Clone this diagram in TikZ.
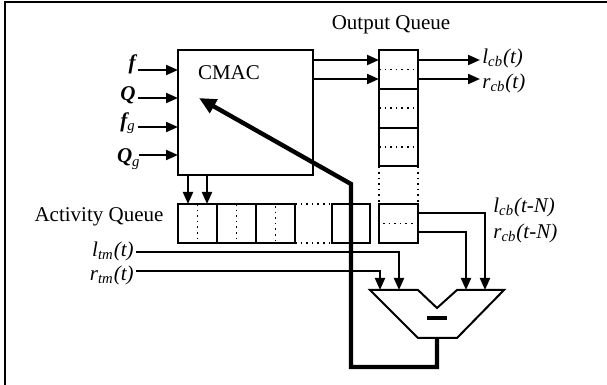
\documentclass[tikz,border=0pt]{standalone}
\usepackage{fontspec}
\setmainfont{Liberation Serif}
\usetikzlibrary{positioning,arrows.meta}

\begin{document}
\begin{tikzpicture}[x=0.5pt,y=-0.5pt,
  font=\fontsize{10.5}{12}\selectfont,
  cell/.style={draw,line width=1pt,minimum width=19.5pt,minimum height=19.4pt,
    inner sep=0pt,outer sep=0pt},
  lbl/.style={inner sep=1pt,font=\fontsize{10.5}{12}\selectfont\itshape},
  dots/.style={dotted,line width=0.8pt},
  flow/.style={-{Triangle[length=6pt,width=5pt]},line width=1pt},
  wire/.style={line width=1pt},
  back/.style={-{Triangle[length=8.5pt,width=7.5pt]},line width=2.2pt},
  node distance=0pt]
\useasboundingbox (0,0) rectangle (607,385);
\draw[line width=1pt] (5,385) -- (5,2) -- (607,2);
% CMAC block
\node[cell,minimum width=67.5pt,minimum height=62.5pt,anchor=north west] (cmac) at (178,50) {};
\node (cmaclbl) at (229,73) {CMAC};
% output queue
\node[cell,anchor=north west] (oq1) at (379,50) {};
\node[cell,below=of oq1] (oq2) {};
\node[cell,below=of oq2] (oq3) {};
\node[cell,anchor=north west,minimum height=19.5pt] (oqN) at (379,204) {};
\draw[dots,shorten <=2pt,shorten >=2pt] (oq1.west) -- (oq1.east) (oq2.west) -- (oq2.east)
  (oq3.west) -- (oq3.east) (oqN.west) -- (oqN.east);
\draw[dots] (oq3.south west) -- (oqN.north west) (oq3.south east) -- (oqN.north east);
\node (oqlbl) at (391,25) {Output Queue};
% activity queue
\node[cell,anchor=north west,minimum height=19.5pt] (aq1) at (178,204) {};
\node[cell,right=of aq1,minimum height=19.5pt] (aq2) {};
\node[cell,right=of aq2,minimum height=19.5pt] (aq3) {};
\node[cell,anchor=north west,minimum width=19pt,minimum height=19.5pt] (aq4) at (332,204) {};
\draw[dots,shorten <=1pt,shorten >=1pt] (aq1.north) -- (aq1.south) (aq2.north) -- (aq2.south)
  (aq3.north) -- (aq3.south);
\draw[dots] (aq3.north east) -- (aq4.north west) (aq3.south east) -- (aq4.south west);
\node (aqlbl) at (99,217) {Activity Queue};
% inputs
\node[lbl,anchor=east] (fin) at (138,64) {\bfseries f};
\node[lbl,anchor=east] (qin) at (138,95) {\bfseries Q};
\node[lbl,anchor=east] (fgin) at (138,123) {\textbf{f}\textsubscript{g}};
\node[lbl,anchor=east] (qgin) at (143,159) {\textbf{Q}\textsubscript{g}};
\coordinate (fin-in) at ([yshift=-10pt]cmac.north west);
\coordinate (qin-in) at ([yshift=-24pt]cmac.north west);
\coordinate (fgin-in) at ([yshift=-38.5pt]cmac.north west);
\coordinate (qgin-in) at ([yshift=-52.5pt]cmac.north west);
\draw[flow] (fin.east |- fin-in) -- (fin-in);
\draw[flow] (qin.east |- qin-in) -- (qin-in);
\draw[flow] (fgin.east |- fgin-in) -- (fgin-in);
\draw[flow] ([xshift=-2pt]qgin.east |- qgin-in) -- (qgin-in);
% CMAC to queues
\draw[flow] ([yshift=-5pt]cmac.north east) -- ([yshift=-5pt]oq1.north west);
\draw[flow] ([yshift=-14.5pt]cmac.north east) -- ([yshift=-14.5pt]oq1.north west);
\draw[flow] ([xshift=5pt]cmac.south west) -- ([xshift=5pt]aq1.north west);
\draw[flow] ([xshift=14.5pt]cmac.south west) -- ([xshift=14.5pt]aq1.north west);
% outputs
\node[lbl,anchor=west] (lcb) at (480,58) {l\textsubscript{cb}(t)};
\node[lbl,anchor=west] (rcb) at (480,83) {r\textsubscript{cb}(t)};
\draw[flow] ([yshift=-5pt]oq1.north east) -- ([yshift=-5pt]oq1.north east -| lcb.west);
\draw[flow] ([yshift=-14.5pt]oq1.north east) -- ([yshift=-14.5pt]oq1.north east -| rcb.west);
\node[lbl,anchor=west] (lcbN) at (491,207) {l\textsubscript{cb}(t-N)};
\node[lbl,anchor=west] (rcbN) at (491,233) {r\textsubscript{cb}(t-N)};
\node[lbl,anchor=east] (ltm) at (136,251) {l\textsubscript{tm}(t)};
\node[lbl,anchor=east] (rtm) at (136,275) {r\textsubscript{tm}(t)};
% subtractor
\coordinate (subin1) at (380,290);
\coordinate (subin2) at (399,290);
\coordinate (subin3) at (466,290);
\coordinate (subin4) at (485,290);
\coordinate (subout) at (437,338);
\draw[wire] (370,290) -- (418,290) -- (437,308) -- (457,290) -- (504,290)
  -- (457,338) -- (418,338) -- cycle;
\draw[line width=2pt] (427,318) -- (447,318);
\draw[flow] (ltm.east |- 0,252) -| (subin2);
\draw[flow] (rtm.east |- 0,271) -| (subin1);
\draw[flow] ([yshift=-4.5pt]oqN.north east) -| (subin4);
\draw[flow] ([yshift=-14pt]oqN.north east) -| (subin3);
% feedback to CMAC
\coordinate (cmacin) at (199,98);
\coordinate (fbturn) at (351,184);
\coordinate (fbbot) at (351,367);
\draw[back] (subout) |- (fbbot) -- (fbturn) -- (cmacin);
\end{tikzpicture}
\end{document}
